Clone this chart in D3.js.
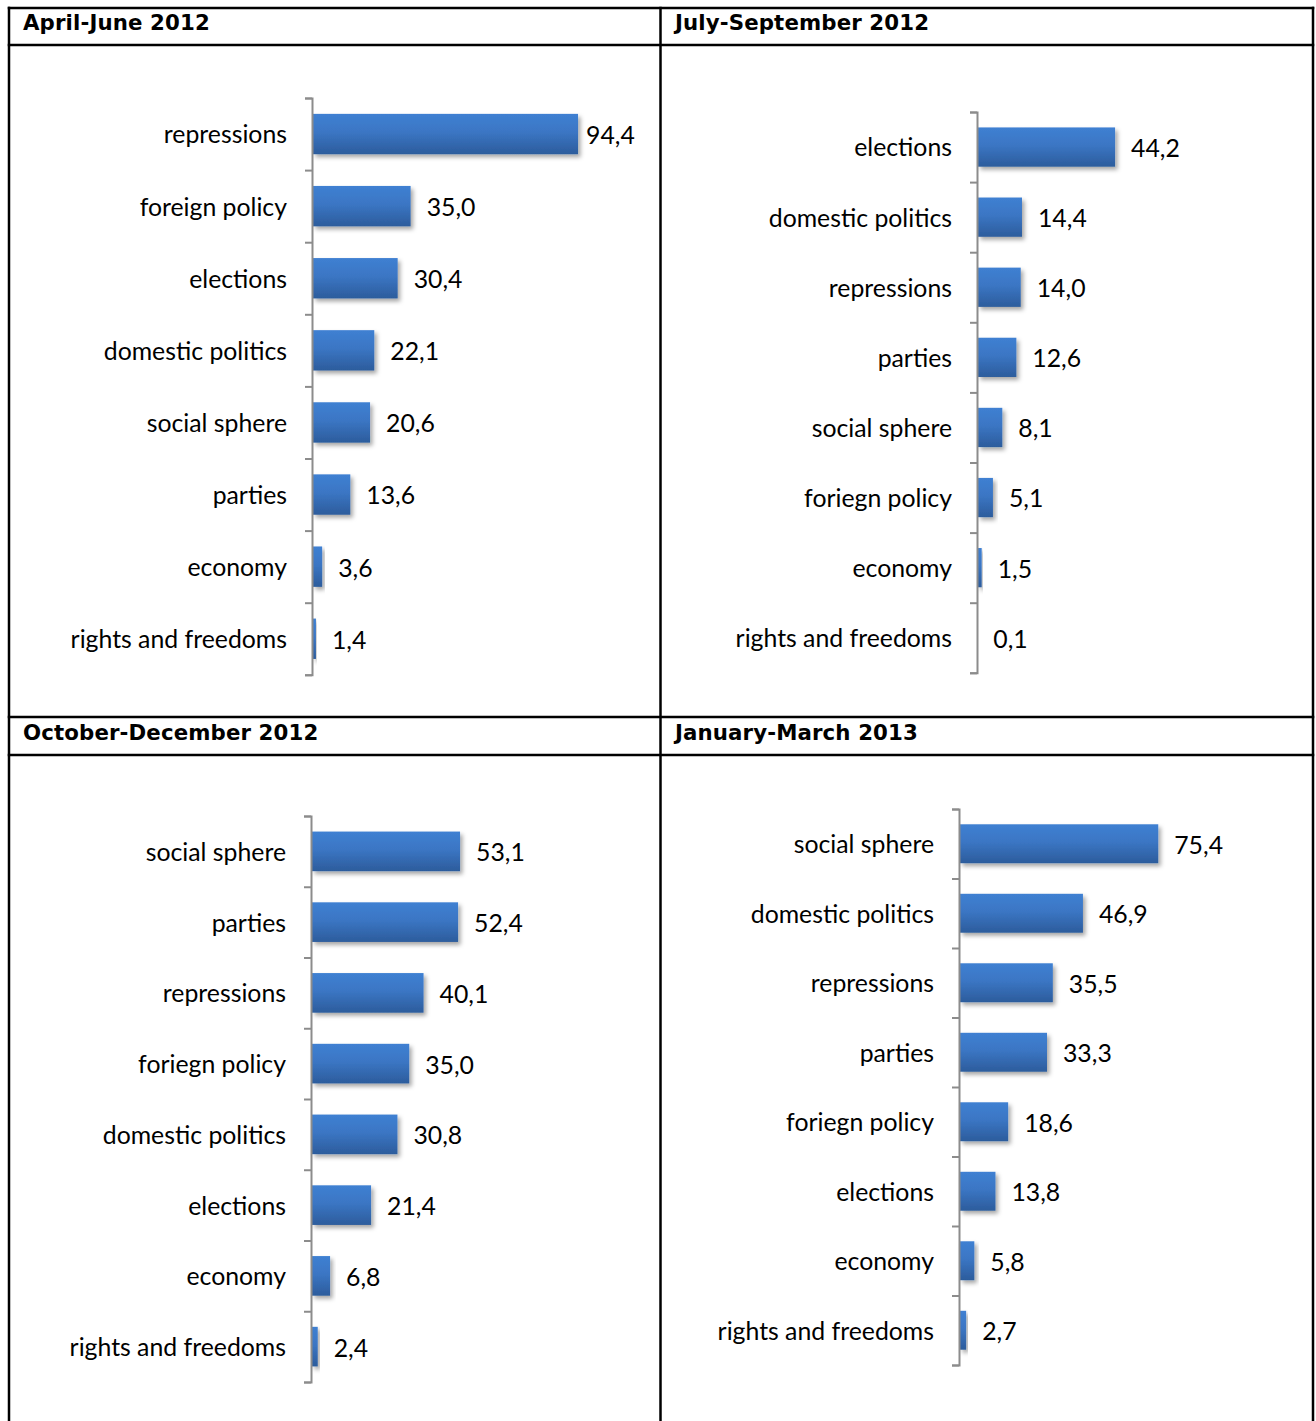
<!DOCTYPE html>
<html>
<head>
<meta charset="utf-8">
<script src="https://cdn.jsdelivr.net/npm/d3@7/dist/d3.min.js"></script>
<style>
  html, body { margin: 0; padding: 0; background: #fff; }
  svg { display: block; }
</style>
</head>
<body>
<svg id="chart" width="1316" height="1421"></svg>
<script>
// ---- Data ----
const titles = ["April-June 2012", "July-September 2012", "October-December 2012", "January-March 2013"];

const catsAprJun = ["repressions", "foreign policy", "elections", "domestic politics", "social sphere", "parties", "economy", "rights and freedoms"];
const valsAprJun = [94.4, 35.0, 30.4, 22.1, 20.6, 13.6, 3.6, 1.4];

const catsJulSep = ["elections", "domestic politics", "repressions", "parties", "social sphere", "foriegn policy", "economy", "rights and freedoms"];
const valsJulSep = [44.2, 14.4, 14.0, 12.6, 8.1, 5.1, 1.5, 0.1];

const catsOctDec = ["social sphere", "parties", "repressions", "foriegn policy", "domestic politics", "elections", "economy", "rights and freedoms"];
const valsOctDec = [53.1, 52.4, 40.1, 35.0, 30.8, 21.4, 6.8, 2.4];

const catsJanMar = ["social sphere", "domestic politics", "repressions", "parties", "foriegn policy", "elections", "economy", "rights and freedoms"];
const valsJanMar = [75.4, 46.9, 35.5, 33.3, 18.6, 13.8, 5.8, 2.7];

// axis maxima (value domain of each panel)
const axisMax = [100, 50, 60, 80];

// ---- Layout ----
const panels = [
  { cats: catsAprJun, vals: valsAprJun, axisX: 312, y0: 98,  step: 72.1, width: 281.8, labelMax: 586 },
  { cats: catsJulSep, vals: valsJulSep, axisX: 977, y0: 112, step: 70.1, width: 156.2, labelMax: 1250 },
  { cats: catsOctDec, vals: valsOctDec, axisX: 311, y0: 816, step: 70.75, width: 168.4, labelMax: 600 },
  { cats: catsJanMar, vals: valsJanMar, axisX: 959, y0: 809, step: 69.5, width: 211.4, labelMax: 1250 }
];
const titlePos = [[23, 30], [675, 30], [23, 740], [675, 740]];

const svg = d3.select("#chart");
const defs = svg.append("defs");

const grad = defs.append("linearGradient").attr("id", "barGrad")
  .attr("x1", 0).attr("y1", 0).attr("x2", 0).attr("y2", 1);
grad.append("stop").attr("offset", "0%").attr("stop-color", "#3f80d2");
grad.append("stop").attr("offset", "45%").attr("stop-color", "#3b76c4");
grad.append("stop").attr("offset", "100%").attr("stop-color", "#2c5c9c");

const shadow = defs.append("filter").attr("id", "shadow")
  .attr("x", "-20%").attr("y", "-30%").attr("width", "150%").attr("height", "170%");
shadow.append("feDropShadow").attr("dx", 2.5).attr("dy", 3).attr("stdDeviation", 2.2)
  .attr("flood-color", "#000").attr("flood-opacity", 0.35);

const labelFont = "Lato, 'Open Sans', sans-serif";
const labelSize = 24.8;
const fmt = v => d3.format(".1f")(v).replace(".", ",");

panels.forEach((p, i) => {
  const g = svg.append("g");
  const n = p.cats.length;
  const y = d3.scaleBand().domain(p.cats)
    .range([p.y0, p.y0 + n * p.step])
    .paddingInner(0.44).paddingOuter(0.22);
  const x = d3.scaleLinear().domain([0, axisMax[i]]).range([p.axisX, p.axisX + p.width]);

  // bars
  g.selectAll("rect.bar").data(p.vals).enter().append("rect")
    .attr("class", "bar")
    .attr("x", x(0) + 1)
    .attr("y", (d, k) => y(p.cats[k]))
    .attr("width", d => Math.max(0, x(d) - x(0) - 1))
    .attr("height", y.bandwidth())
    .attr("fill", "url(#barGrad)")
    .attr("filter", "url(#shadow)");

  // axis with ticks at category boundaries
  const yb = d3.scaleLinear().domain([0, n]).range([p.y0, p.y0 + n * p.step]);
  const ax = g.append("g").attr("transform", `translate(${p.axisX},0)`)
    .call(d3.axisLeft(yb).tickValues(d3.range(n + 1)).tickSize(7).tickSizeOuter(7).tickFormat(""));
  ax.selectAll("path, line").attr("stroke", "#8c8c8c").attr("stroke-width", 2);

  // category labels
  g.selectAll("text.cat").data(p.cats).enter().append("text")
    .attr("class", "cat")
    .attr("x", p.axisX - 25)
    .attr("y", d => y(d) + y.bandwidth() / 2 + labelSize * 0.38)
    .attr("text-anchor", "end")
    .attr("font-family", labelFont).attr("font-size", labelSize)
    .attr("fill", "#000")
    .text(d => d);

  // value labels
  g.selectAll("text.val").data(p.vals).enter().append("text")
    .attr("class", "val")
    .attr("x", d => Math.min(x(d) + 16, p.labelMax))
    .attr("y", (d, k) => y(p.cats[k]) + y.bandwidth() / 2 + labelSize * 0.4)
    .attr("font-family", labelFont).attr("font-size", labelSize)
    .attr("fill", "#000")
    .text(d => fmt(d));
});

// table titles
svg.selectAll("text.title").data(titles).enter().append("text")
  .attr("class", "title")
  .attr("x", (d, i) => titlePos[i][0])
  .attr("y", (d, i) => titlePos[i][1])
  .attr("font-family", "'DejaVu Sans', Verdana, sans-serif")
  .attr("font-weight", "bold")
  .attr("font-size", 21.3)
  .attr("letter-spacing", 0.12)
  .attr("fill", "#000")
  .text(d => d);

// table borders
const lines = [
  [9, 8, 1313, 8], [9, 45, 1313, 45], [9, 717, 1313, 717], [9, 755, 1313, 755],
  [9, 8, 9, 1421], [660.5, 8, 660.5, 1421], [1313, 8, 1313, 1421]
];
svg.selectAll("line.border").data(lines).enter().append("line")
  .attr("class", "border")
  .attr("x1", d => d[0]).attr("y1", d => d[1]).attr("x2", d => d[2]).attr("y2", d => d[3])
  .attr("stroke", "#000").attr("stroke-width", 2.5).attr("stroke-linecap", "square");
</script>
</body>
</html>
